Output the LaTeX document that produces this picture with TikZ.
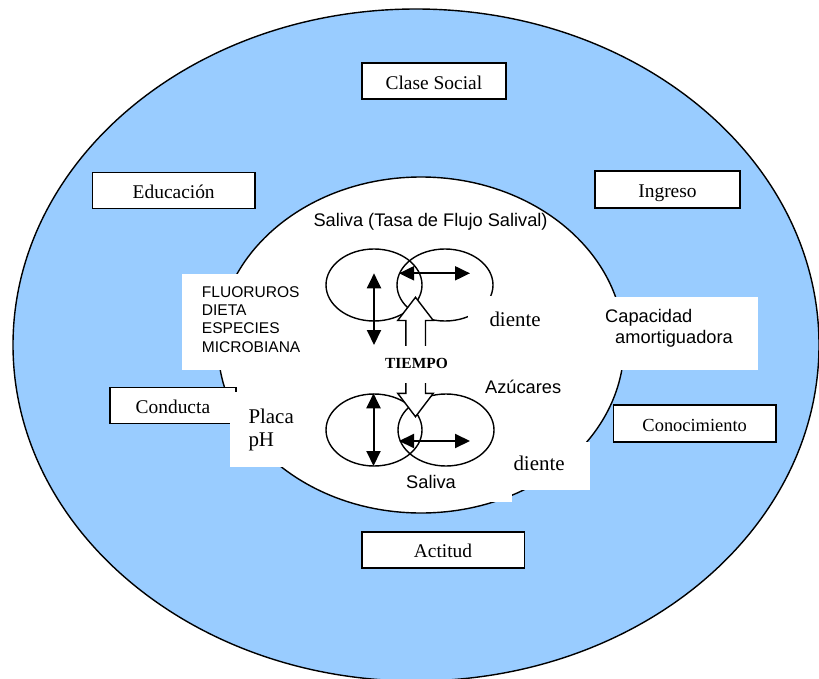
\documentclass[tikz,border=0pt]{standalone}
\usepackage{fontspec}
\setmainfont{Liberation Serif}
\newfontfamily\arialf{Liberation Sans}
\usetikzlibrary{arrows.meta}
\definecolor{skyb}{RGB}{153,204,255}
\begin{document}
\begin{tikzpicture}[x=1bp,y=-1bp,
  lbox/.style={draw, line width=1.6bp, fill=white, rectangle, inner sep=0pt,
    text height=16bp, text depth=0bp, font=\fontsize{19.5}{22}\selectfont},
  patch/.style={fill=white, rectangle, inner sep=0pt, anchor=north west},
  ring/.style={draw, line width=1.4bp},
  dbl/.style={line width=2bp, {Triangle[length=15bp,width=14bp]}-{Triangle[length=15bp,width=14bp]}},
  sans/.style={font=\arialf\fontsize{18.3}{21}\selectfont, inner sep=0pt, anchor=base west},
  small/.style={font=\arialf\fontsize{15.6}{18}\selectfont, inner sep=0pt, anchor=base west},
  serif/.style={font=\fontsize{21}{23}\selectfont, inner sep=0pt, anchor=base west}]

\useasboundingbox (0,0) rectangle (819,679);

% rings
\path[ring, fill=skyb] (416,345) ellipse [x radius=403, y radius=336];
\path[ring, fill=white] (421,345) ellipse [x radius=203, y radius=168];

% outer labelled boxes
\node[lbox, minimum width=144.3bp, minimum height=36bp] (clase) at (433.9,81.3) {Clase Social};
\node[lbox, minimum width=162.7bp, minimum height=36bp] (educ) at (173.7,190.3) {Educación};
\node[lbox, minimum width=145bp, minimum height=36.7bp] (ingreso) at (667.5,189.4) {Ingreso};
\node[lbox, minimum width=126.3bp, minimum height=36bp] (conducta) at (172.9,405.4) {Conducta};
\node[lbox, minimum width=162.7bp, minimum height=36.7bp, font=\fontsize{18.5}{21}\selectfont] (conoc) at (694.7,423.4) {Conocimiento};
\node[lbox, minimum width=162.6bp, minimum height=36bp] (actitud) at (443,549.7) {Actitud};

% white text patches
\node[patch, minimum width=128bp, minimum height=96bp] (fluorbox) at (182,274) {};
\node[patch, minimum width=164.6bp, minimum height=73bp] (capbox) at (593,297) {};
\node[patch, minimum width=70bp, minimum height=75bp] (placabox) at (230,392) {};
\node[patch, minimum width=90bp, minimum height=48.3bp] (diente2box) at (500,441.7) {};
\node[patch, minimum width=116.7bp, minimum height=31.7bp] (salivabox) at (395,470) {};

% texts
\node[sans] (saltop) at (313.3,226) {Saliva (Tasa de Flujo Salival)};
\node[small] (f1) at (201.7,297.5) {FLUORUROS};
\node[small] (f2) at (201.7,315.7) {DIETA};
\node[small] (f3) at (201.7,333.9) {ESPECIES};
\node[small] (f4) at (201.7,352.1) {MICROBIANA};
\node[sans] (cap1) at (605,322) {Capacidad};
\node[sans] (cap2) at (615,343.3) {amortiguadora};
\node[serif] (placa) at (248.3,423.3) {Placa};
\node[serif] (ph) at (248.3,446.7) {pH};
\node[sans] (azuc) at (485,393.3) {Azúcares};
\node[sans] (salbot) at (406,488.3) {Saliva};
\node[serif] (diente2) at (513.3,470) {diente};

% small ellipses
\draw[ring] (374,285) ellipse [x radius=48, y radius=36];
\draw[ring] (445,285) ellipse [x radius=48, y radius=36];
\draw[ring] (374,430) ellipse [x radius=48, y radius=36];
\draw[ring] (446,430) ellipse [x radius=48, y radius=36];

% upper diente patch hides part of the upper right ellipse
\node[patch, minimum width=92bp, minimum height=44bp] (diente1box) at (468,296) {};
\node[serif] (diente1) at (489.3,326.7) {diente};

% double arrows
\coordinate (uvt) at (374,273.3);
\coordinate (uvb) at (374,345);
\coordinate (uhl) at (399,273.3);
\coordinate (uhr) at (470,273.3);
\coordinate (lvt) at (373.5,393.3);
\coordinate (lvb) at (373.5,466);
\coordinate (lhl) at (399,441);
\coordinate (lhr) at (470,441);
\draw[dbl] (uvt) -- (uvb);
\draw[dbl] (uhl) -- (uhr);
\draw[dbl] (lvt) -- (lvb);
\draw[dbl] (lhl) -- (lhr);

% hollow block arrow (up and down)
\draw[line width=1.4bp, fill=white, line join=miter]
  (415.5,297.3) -- (433.3,320.5) -- (425.5,320.5) -- (425.5,393.3) -- (433.3,393.3)
  -- (415.5,416.7) -- (397.7,393.3) -- (405.8,393.3) -- (405.8,320.5) -- (397.7,320.5) -- cycle;

% TIEMPO label
\node[patch, minimum width=70bp, minimum height=36.7bp] (tiempobox) at (381,346) {};
\node[font=\bfseries\fontsize{15.5}{17}\selectfont, anchor=base, inner sep=0pt] (tiempo) at (416.5,368.3) {TIEMPO};

\end{tikzpicture}
\end{document}
